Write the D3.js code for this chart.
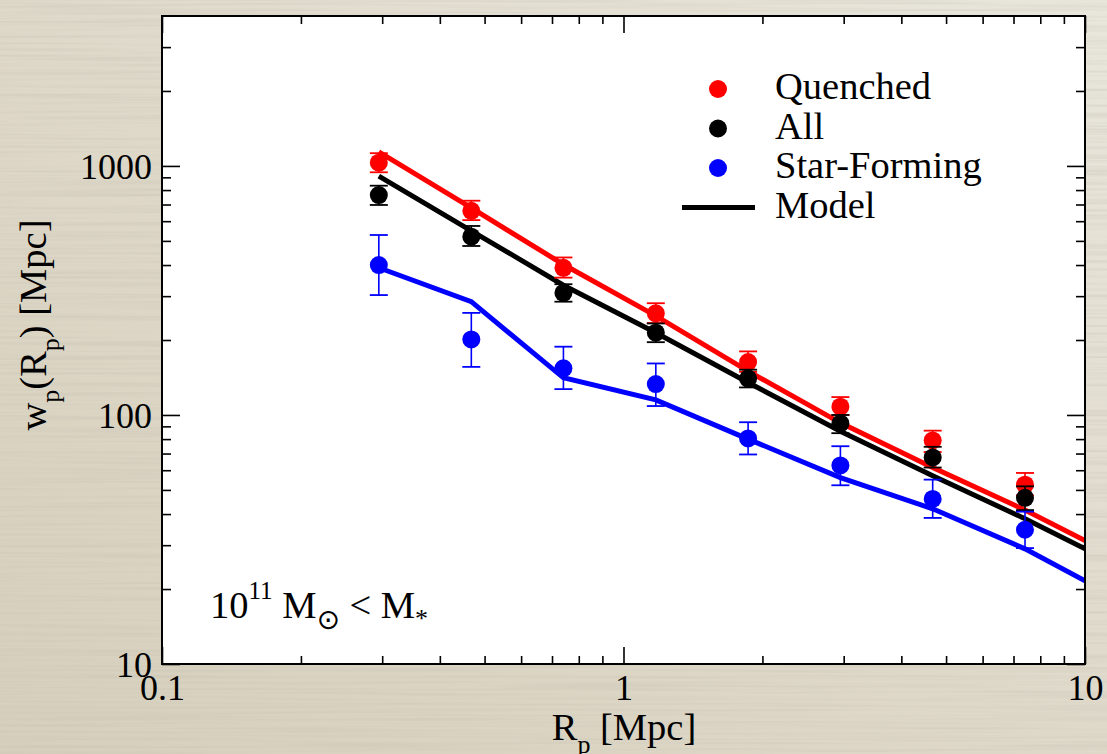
<!DOCTYPE html>
<html>
<head>
<meta charset="utf-8">
<script src="https://cdn.jsdelivr.net/npm/d3@7/dist/d3.min.js"></script>
<style>
  html, body { margin: 0; padding: 0; background: #dfd9ca; }
  svg { display: block; }
  text { font-family: "Liberation Serif", "Times New Roman", serif; fill: #000; }
</style>
</head>
<body>
<svg id="chart" width="1107" height="754"></svg>
<script>
// Projected correlation function w_p(R_p) for galaxies above 1e11 solar masses
const rp = [0.295, 0.468, 0.741, 1.175, 1.862, 2.951, 4.677, 7.413];

const quenched   = [1030, 660, 390, 256, 163, 108, 79, 52.5];
const quenchedLo = [943, 606, 356, 234, 149, 100, 71, 47.5];
const quenchedHi = [1125, 725, 429, 281, 180, 118, 86.5, 58.5];

const all   = [764, 520, 309, 214, 140, 92.5, 67.5, 46.5];
const allLo = [697, 477, 285, 196, 129, 84.5, 61.5, 41.5];
const allHi = [833, 574, 335, 233, 152, 100, 74.5, 51.7];

const starForming   = [400, 201, 154, 133, 80.5, 62.7, 46, 34.6];
const starFormingLo = [303, 156, 127, 108.6, 69.4, 52.2, 38.6, 29.2];
const starFormingHi = [528, 257, 188, 161, 93.5, 74.9, 55, 40.9];

// Model curves
const modelRp        = [0.295, 0.468, 0.741, 1.175, 1.862, 2.951, 4.677, 7.413, 10];
const modelQuenched  = [1140, 678, 402, 250, 150, 93, 61.5, 41.5, 31.3];
const modelAll       = [910, 549, 332, 214, 135, 86, 57, 38.3, 29];
const modelStarForm  = [390, 285, 141, 115, 80, 56, 42, 29, 21.6];

const xMajor = [0.1, 1, 10];
const xMinor = [0.2,0.3,0.4,0.5,0.6,0.7,0.8,0.9, 2,3,4,5,6,7,8,9];
const yMajor = [10, 100, 1000];
const yMinor = [20,30,40,50,60,70,80,90, 200,300,400,500,600,700,800,900, 2000,3000];

const legendItems = [
  {label: "Quenched", color: "#ff0000", kind: "dot"},
  {label: "All", color: "#000000", kind: "dot"},
  {label: "Star-Forming", color: "#0000ff", kind: "dot"},
  {label: "Model", color: "#000000", kind: "line"}
];

const W = 1107, H = 754;
const plot = {left: 162, right: 1085, top: 16, bottom: 664};

const svg = d3.select("#chart");
const defs = svg.append("defs");

// paper background
const grad = defs.append("linearGradient").attr("id", "paper")
  .attr("x1", "100%").attr("y1", "0%").attr("x2", "0%").attr("y2", "100%");
grad.append("stop").attr("offset", "0%").attr("stop-color", "#e9e6dc");
grad.append("stop").attr("offset", "50%").attr("stop-color", "#dfd9ca");
grad.append("stop").attr("offset", "100%").attr("stop-color", "#d6cfbc");

const grain = defs.append("filter").attr("id", "grain")
  .attr("x", 0).attr("y", 0).attr("width", "100%").attr("height", "100%");
grain.append("feTurbulence").attr("type", "fractalNoise")
  .attr("baseFrequency", "0.004 0.33").attr("numOctaves", 2).attr("seed", 7).attr("result", "n");
grain.append("feColorMatrix").attr("in", "n").attr("type", "matrix")
  .attr("values", "0 0 0 0 0.55  0 0 0 0 0.52  0 0 0 0 0.44  0.9 0 0 0 -0.38");

svg.append("rect").attr("width", W).attr("height", H).attr("fill", "url(#paper)");
svg.append("rect").attr("width", W).attr("height", H).attr("filter", "url(#grain)").attr("fill", "#fff");

defs.append("clipPath").attr("id", "plotClip").append("rect")
  .attr("x", plot.left).attr("y", plot.top)
  .attr("width", plot.right - plot.left).attr("height", plot.bottom - plot.top);

const x = d3.scaleLog().domain([0.1, 10]).range([plot.left, plot.right]);
const y = d3.scaleLog().domain([10, 4000]).range([plot.bottom, plot.top]);

// plot area
svg.append("rect")
  .attr("x", plot.left).attr("y", plot.top)
  .attr("width", plot.right - plot.left).attr("height", plot.bottom - plot.top)
  .attr("fill", "#fff");

// ticks on all four sides, pointing inward
function tickAxis(axisFn, scale, values, size, transform, labels) {
  const ax = axisFn(scale).tickValues(values).tickSizeInner(-size).tickSizeOuter(0)
    .tickPadding(10)
    .tickFormat(labels ? (d => d3.format("~g")(d)) : "");
  const g = svg.append("g").attr("transform", transform).call(ax);
  g.select(".domain").remove();
  g.selectAll(".tick line").attr("stroke", "#000").attr("stroke-width", 1.6);
  g.selectAll("text").style("font-family", "'Liberation Serif', serif")
    .style("font-size", "36px").attr("fill", "#000");
  return g;
}

const gxb = tickAxis(d3.axisBottom, x, xMajor, 17, `translate(0,${plot.bottom})`, true);
gxb.selectAll("text").attr("y", 36).attr("dy", 0);
tickAxis(d3.axisBottom, x, xMinor, 8, `translate(0,${plot.bottom})`, false);
tickAxis(d3.axisTop, x, xMajor, 17, `translate(0,${plot.top})`, false);
tickAxis(d3.axisTop, x, xMinor, 8, `translate(0,${plot.top})`, false);

const gyl = tickAxis(d3.axisLeft, y, yMajor, 18, `translate(${plot.left},0)`, true);
gyl.selectAll("text").attr("dy", "0.36em");
tickAxis(d3.axisLeft, y, yMinor, 9, `translate(${plot.left},0)`, false);
tickAxis(d3.axisRight, y, yMajor, 18, `translate(${plot.right},0)`, false);
tickAxis(d3.axisRight, y, yMinor, 9, `translate(${plot.right},0)`, false);

// model lines
const line = d3.line().x(d => x(d[0])).y(d => y(d[1]));
const models = [
  {vals: modelQuenched, color: "#ff0000"},
  {vals: modelAll, color: "#000000"},
  {vals: modelStarForm, color: "#0000ff"}
];
const gLines = svg.append("g").attr("clip-path", "url(#plotClip)");
models.forEach(m => {
  gLines.append("path")
    .attr("d", line(modelRp.map((r, i) => [r, m.vals[i]])))
    .attr("fill", "none").attr("stroke", m.color).attr("stroke-width", 5)
    .attr("stroke-linejoin", "miter");
});

// data points with error bars
const series = [
  {vals: quenched, lo: quenchedLo, hi: quenchedHi, color: "#ff0000"},
  {vals: all, lo: allLo, hi: allHi, color: "#000000"},
  {vals: starForming, lo: starFormingLo, hi: starFormingHi, color: "#0000ff"}
];
const capHalf = 9;
series.forEach(s => {
  const g = svg.append("g");
  const pts = rp.map((r, i) => ({r, v: s.vals[i], lo: s.lo[i], hi: s.hi[i]}));
  g.selectAll("line.bar").data(pts).join("line")
    .attr("x1", d => x(d.r)).attr("x2", d => x(d.r))
    .attr("y1", d => y(d.lo)).attr("y2", d => y(d.hi))
    .attr("stroke", s.color).attr("stroke-width", 1.6);
  g.selectAll("line.capHi").data(pts).join("line")
    .attr("x1", d => x(d.r) - capHalf).attr("x2", d => x(d.r) + capHalf)
    .attr("y1", d => y(d.hi)).attr("y2", d => y(d.hi))
    .attr("stroke", s.color).attr("stroke-width", 1.8);
  g.selectAll("line.capLo").data(pts).join("line")
    .attr("x1", d => x(d.r) - capHalf).attr("x2", d => x(d.r) + capHalf)
    .attr("y1", d => y(d.lo)).attr("y2", d => y(d.lo))
    .attr("stroke", s.color).attr("stroke-width", 1.8);
  g.selectAll("circle").data(pts).join("circle")
    .attr("cx", d => x(d.r)).attr("cy", d => y(d.v)).attr("r", 9)
    .attr("fill", s.color);
});

// frame
svg.append("rect")
  .attr("x", plot.left).attr("y", plot.top)
  .attr("width", plot.right - plot.left).attr("height", plot.bottom - plot.top)
  .attr("fill", "none").attr("stroke", "#000").attr("stroke-width", 2);

// legend
const leg = svg.append("g");
legendItems.forEach((d, i) => {
  const cy = 89 + i * 39.5;
  if (d.kind === "dot") {
    leg.append("circle").attr("cx", 718).attr("cy", cy).attr("r", 9).attr("fill", d.color);
  } else {
    leg.append("line").attr("x1", 682).attr("x2", 755).attr("y1", cy).attr("y2", cy)
      .attr("stroke", d.color).attr("stroke-width", 5);
  }
  leg.append("text").attr("x", 775).attr("y", cy + 10)
    .style("font-size", "38.5px").text(d.label);
});

// axis titles
const xt = svg.append("text").attr("x", 624).attr("y", 740)
  .attr("text-anchor", "middle").style("font-size", "38.5px");
xt.append("tspan").text("R");
xt.append("tspan").attr("dy", 13).style("font-size", "26px").text("p");
xt.append("tspan").attr("dy", -13).text(" [Mpc]");

const yt = svg.append("text")
  .attr("transform", "translate(46,325) rotate(-90)")
  .attr("text-anchor", "middle").style("font-size", "38.5px");
yt.append("tspan").text("w");
yt.append("tspan").attr("dy", 13).style("font-size", "26px").text("p");
yt.append("tspan").attr("dy", -13).text("(R");
yt.append("tspan").attr("dy", 13).style("font-size", "26px").text("p");
yt.append("tspan").attr("dy", -13).text(") [Mpc]");

// mass-bin annotation
const ann = svg.append("text").attr("x", 210).attr("y", 618).style("font-size", "38.5px");
ann.append("tspan").text("10");
ann.append("tspan").attr("dy", -19).style("font-size", "25px").text("11");
ann.append("tspan").attr("dy", 19).text(" M");
ann.append("tspan").attr("dy", 11).style("font-size", "28px")
  .style("font-family", "'DejaVu Sans', sans-serif").text("\u2299");
ann.append("tspan").attr("dy", -11).text(" < M");
ann.append("tspan").attr("dy", 9).style("font-size", "26px").text("*");
</script>
</body>
</html>
